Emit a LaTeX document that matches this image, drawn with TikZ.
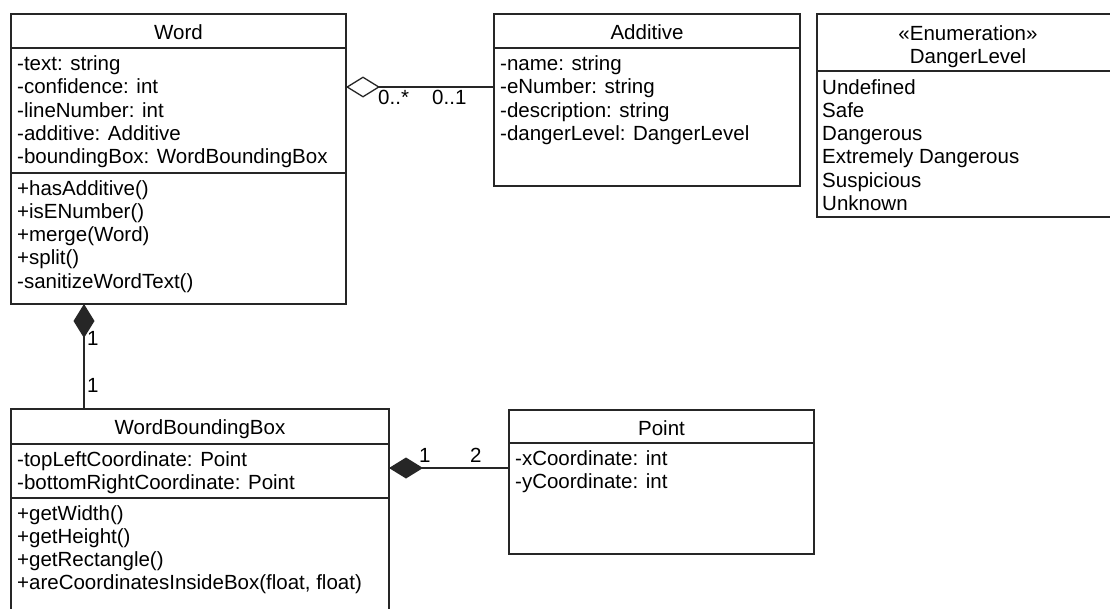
\documentclass[tikz,border=0pt]{standalone}
\usepackage{fontspec}
\setmainfont{Liberation Sans}
\usetikzlibrary{arrows.meta}
\newcommand\umlfont{\fontsize{20.5}{23}\selectfont}
\begin{document}
\begin{tikzpicture}[x=1pt,y=-1pt,
  umlline/.style={line width=1.3pt, draw=black!85},
  classbox/.style={umlline, anchor=north west, inner sep=0pt, outer sep=0pt},
  member/.style={anchor=base west, inner sep=0pt, font=\umlfont},
  classname/.style={anchor=base, inner sep=0pt, font=\umlfont},
  mult/.style={anchor=base west, inner sep=0pt, font=\umlfont},
  aggregation/.style={umlline, {Diamond[open, length=34pt, width=21pt]}-},
  composition/.style={umlline, {Diamond[length=34pt, width=21pt]}-},
]
\useasboundingbox (0,0) rectangle (1110,608);
\clip (0,0) rectangle (1110,608);

% ---------- class boxes ----------
\node[classbox, minimum width=335pt, minimum height=290pt] (word) at (11,14) {};
\node[classbox, minimum width=306pt, minimum height=172pt] (additive) at (494,14) {};
\node[classbox, minimum width=302pt, minimum height=203pt] (danger) at (817,14) {};
\node[classbox, minimum width=378pt, minimum height=210pt] (wbb) at (11,409) {};
\node[classbox, minimum width=305pt, minimum height=144pt] (point) at (509,410) {};

% compartment dividers
\draw[umlline] (word.west |- 0,48) -- (word.east |- 0,48);
\draw[umlline] (word.west |- 0,173) -- (word.east |- 0,173);
\draw[umlline] (additive.west |- 0,48) -- (additive.east |- 0,48);
\draw[umlline] (danger.west |- 0,71) -- (danger.east |- 0,71);
\draw[umlline] (wbb.west |- 0,444) -- (wbb.east |- 0,444);
\draw[umlline] (wbb.west |- 0,498) -- (wbb.east |- 0,498);
\draw[umlline] (point.west |- 0,443) -- (point.east |- 0,443);

% ---------- Word ----------
\node[classname] (word-name) at (178.5,39) {Word};
\foreach [count=\i] \t in {-text: string, -confidence: int, -lineNumber: int,
    -additive: Additive, -boundingBox: WordBoundingBox}
  \node[member] (word-attr-\i) at (17,{70.5+23.3*(\i-1)}) {\t};
\foreach [count=\i] \t in {+hasAdditive(), +isENumber(), +merge(Word),
    +split(), -sanitizeWordText()}
  \node[member] (word-op-\i) at (17,{195+23.3*(\i-1)}) {\t};

% ---------- Additive ----------
\node[classname] (additive-name) at (647,39) {Additive};
\foreach [count=\i] \t in {-name: string, -eNumber: string,
    -description: string, -dangerLevel: DangerLevel}
  \node[member] (additive-attr-\i) at (500,{70.5+23.3*(\i-1)}) {\t};

% ---------- DangerLevel ----------
\node[classname] (danger-stereo) at (968,40.5) {«Enumeration»};
\node[classname] (danger-name) at (968,63.5) {DangerLevel};
\foreach [count=\i] \t in {Undefined, Safe, Dangerous, Extremely Dangerous,
    Suspicious, Unknown}
  \node[member] (danger-lit-\i) at (822,{94+23.3*(\i-1)}) {\t};

% ---------- WordBoundingBox ----------
\node[classname] (wbb-name) at (200,434) {WordBoundingBox};
\foreach [count=\i] \t in {-topLeftCoordinate: Point, -bottomRightCoordinate: Point}
  \node[member] (wbb-attr-\i) at (17,{466+23*(\i-1)}) {\t};
\foreach [count=\i] \t in {+getWidth(), +getHeight(), +getRectangle(),
    {+areCoordinatesInsideBox(float, float)}}
  \node[member] (wbb-op-\i) at (17,{520+23*(\i-1)}) {\t};

% ---------- Point ----------
\node[classname] (point-name) at (661.5,435) {Point};
\foreach [count=\i] \t in {-xCoordinate: int, -yCoordinate: int}
  \node[member] (point-attr-\i) at (515,{465.5+23*(\i-1)}) {\t};

% ---------- associations ----------
\coordinate (wa) at (0,87);
\draw[aggregation] (word.east |- wa) -- (additive.west |- wa);
\node[mult] (m-wa-1) at (378,104) {0..*};
\node[mult] (m-wa-2) at (432,104) {0..1};

\coordinate (wb) at (84,0);
\draw[composition] (word.south -| wb) -- (wbb.north -| wb);
\node[mult] (m-wb-1) at (87,345.5) {1};
\node[mult] (m-wb-2) at (87,392.5) {1};

\coordinate (bp) at (0,468);
\draw[composition] (wbb.east |- bp) -- (point.west |- bp);
\node[mult] (m-bp-1) at (419,462) {1};
\node[mult] (m-bp-2) at (470,462) {2};
\end{tikzpicture}
\end{document}
